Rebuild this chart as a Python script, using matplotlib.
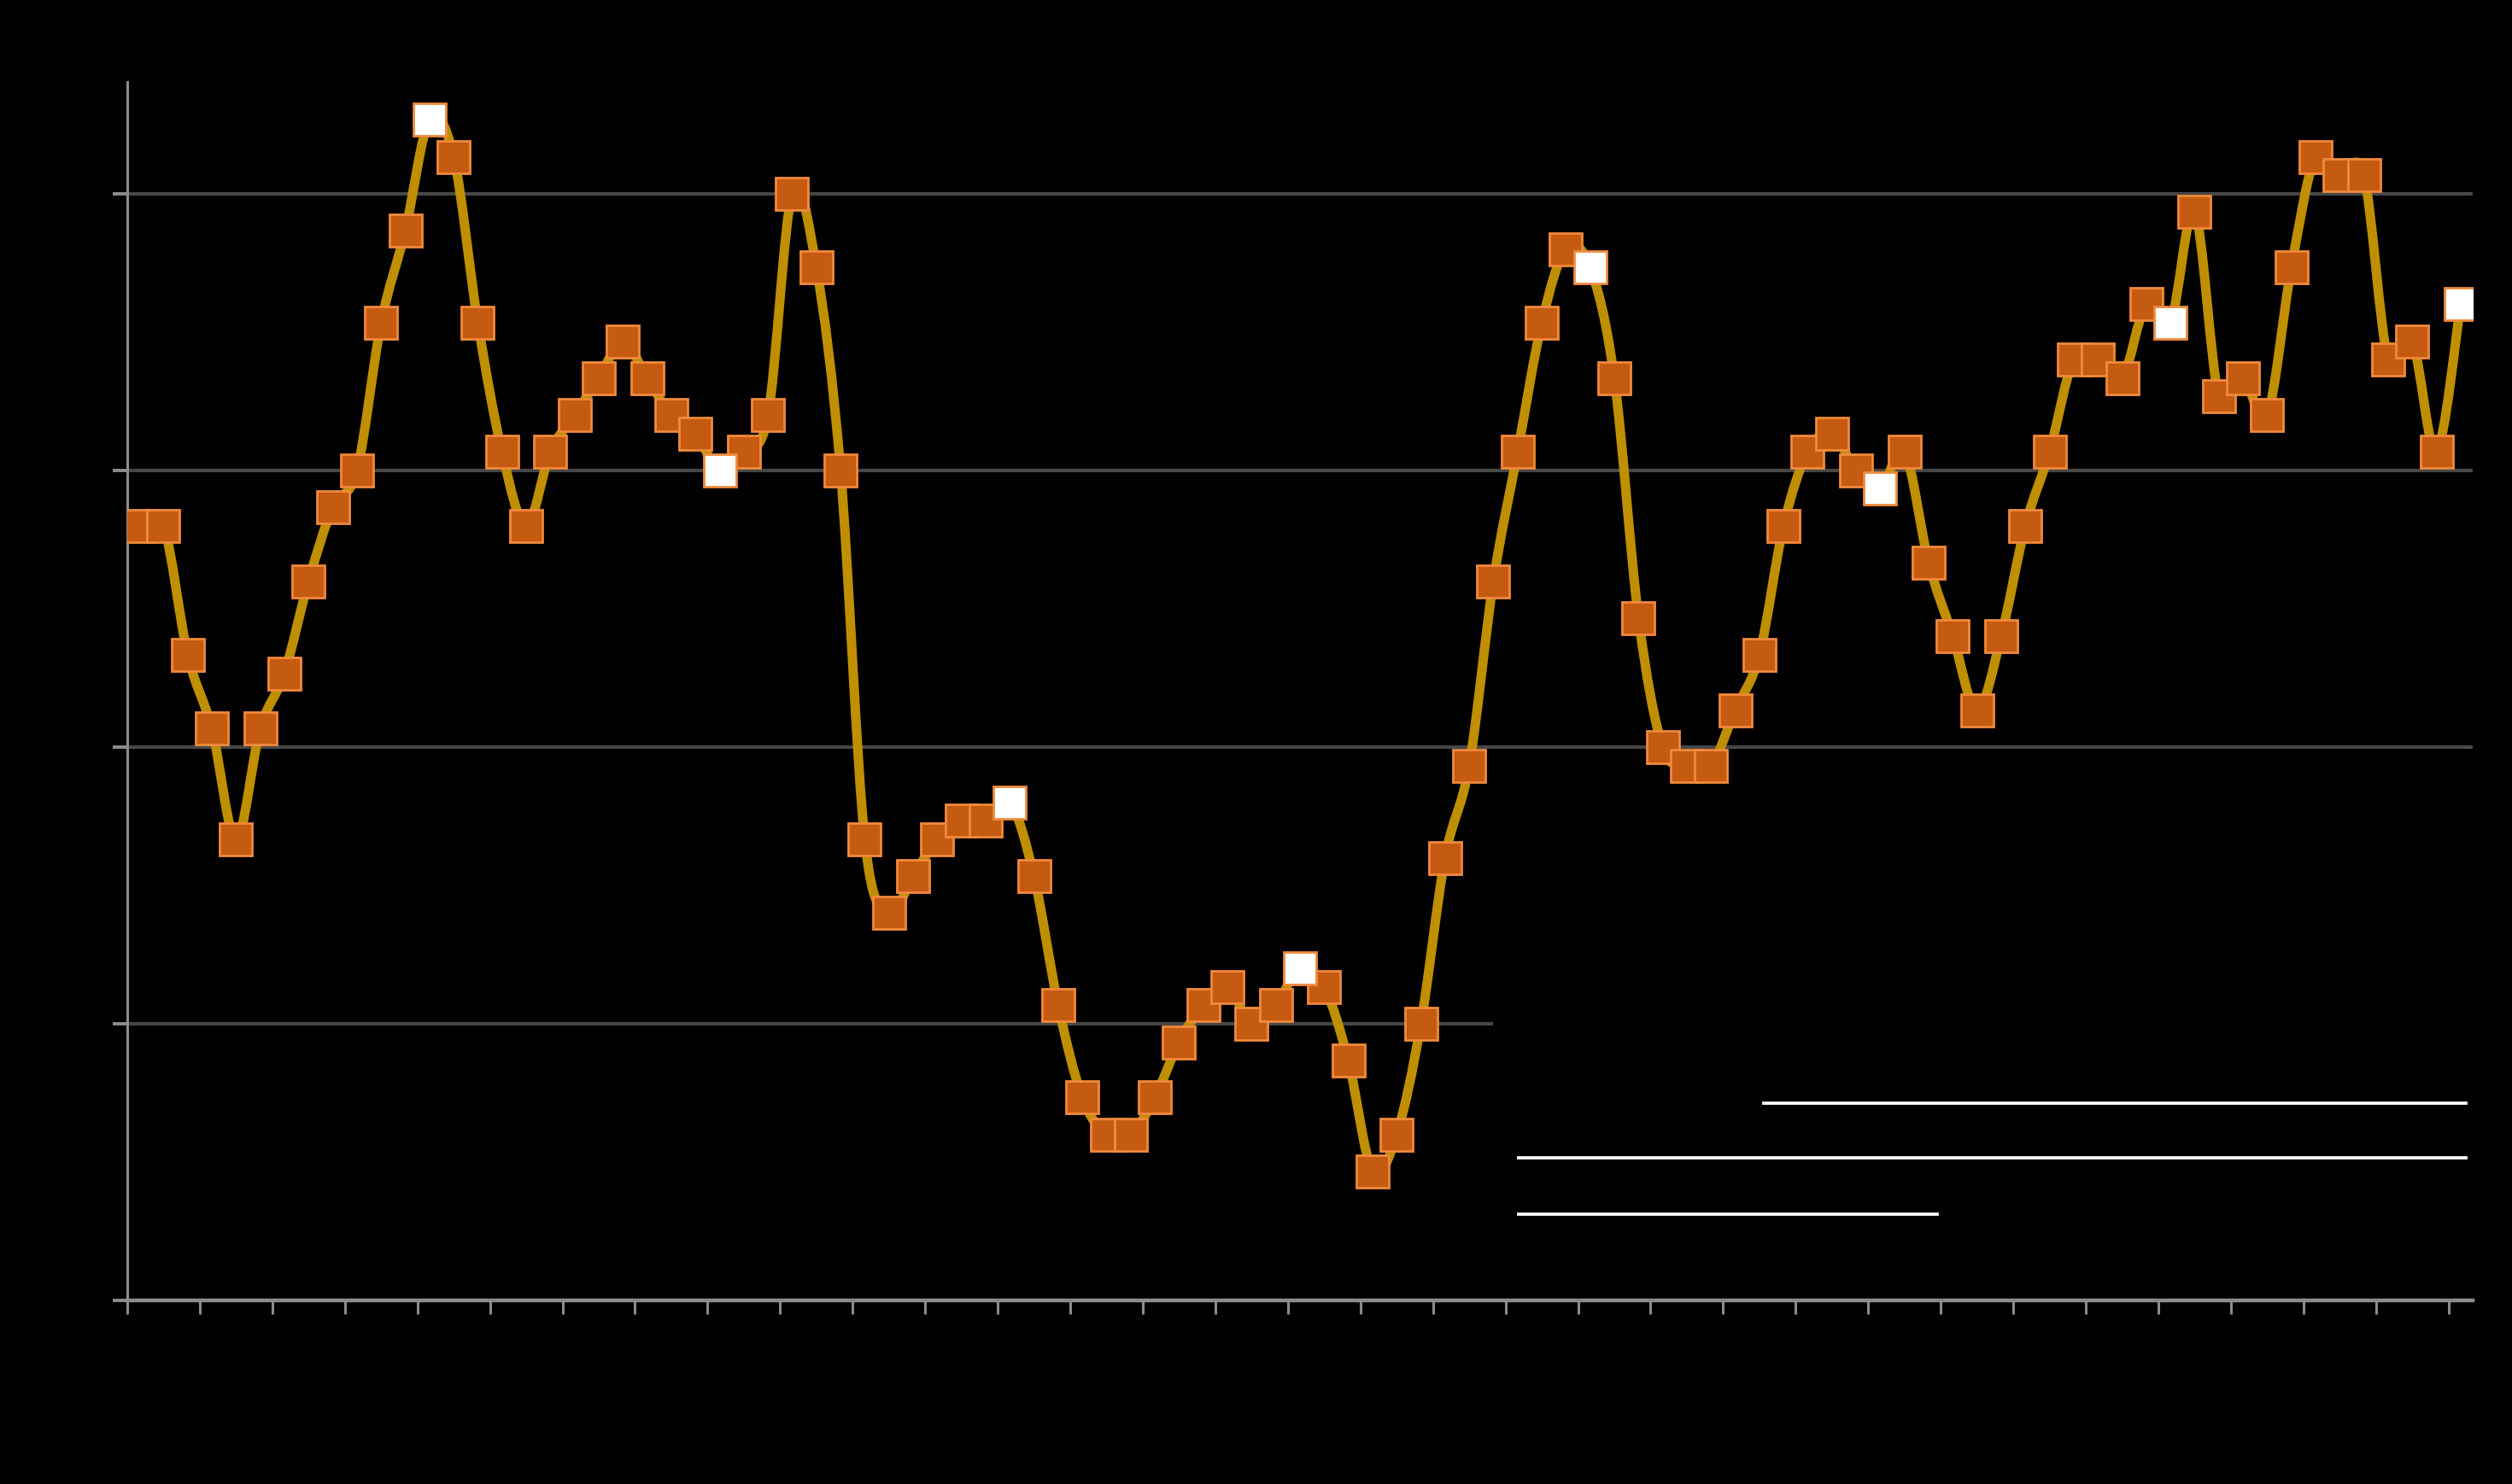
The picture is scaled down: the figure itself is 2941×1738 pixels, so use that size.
import matplotlib
matplotlib.use("Agg")
import matplotlib.pyplot as plt
from matplotlib.path import Path
from matplotlib.patches import PathPatch, Rectangle
from matplotlib.lines import Line2D
import numpy as np

# ---- data (monthly values) ----
values = [42, 42, 35, 31, 25, 31, 34, 39, 43, 45, 53, 58,
          64, 62, 53, 46, 42, 46, 48, 50, 52, 50, 48, 47,
          45, 46, 48, 60, 56, 45, 25, 21, 23, 25, 26, 26,
          27, 23, 16, 11, 9, 9, 11, 14, 16, 17, 15, 16,
          18, 17, 13, 7, 9, 15, 24, 29, 39, 46, 53, 57,
          56, 50, 37, 30, 29, 29, 32, 35, 42, 46, 47, 45,
          44, 46, 40, 36, 32, 36, 42, 46, 51, 51, 50, 54,
          53, 59, 49, 50, 48, 56, 62, 61, 61, 51, 52, 46,
          54]
highlight_idx = [12, 24, 36, 48, 60, 72, 84, 96]
y_ticks = [0, 15, 30, 45, 60]

BG = "#000000"
LINE_C = "#BF8F00"
MK_FACE = "#C55A11"
MK_EDGE = "#F08A3C"
GRID_C = "#474747"
AX_C = "#8C8C8C"

fig = plt.figure(figsize=(29.41, 17.38), dpi=100, facecolor=BG)
ax = fig.add_axes([0.05066, 0.1237, 0.98436 - 0.05066, 0.9448 - 0.1237])
ax.set_facecolor(BG)

n = len(values)
x = np.arange(n, dtype=float)
y = np.array(values, dtype=float)

# smoothed line (Catmull-Rom style Bezier, like a spreadsheet "smooth line")
verts = [(x[0], y[0])]
codes = [Path.MOVETO]
for i in range(n - 1):
    p0 = np.array([x[max(i - 1, 0)], y[max(i - 1, 0)]])
    p1 = np.array([x[i], y[i]])
    p2 = np.array([x[i + 1], y[i + 1]])
    p3 = np.array([x[min(i + 2, n - 1)], y[min(i + 2, n - 1)]])
    c1 = p1 + (p2 - p0) / 6.0
    c2 = p2 - (p3 - p1) / 6.0
    verts += [tuple(c1), tuple(c2), tuple(p2)]
    codes += [Path.CURVE4, Path.CURVE4, Path.CURVE4]
ax.add_patch(PathPatch(Path(verts, codes), facecolor="none", edgecolor=LINE_C,
                       lw=8.0, capstyle="round", joinstyle="round", zorder=3))

normal = [i for i in range(n) if i not in highlight_idx]
ax.plot(x[normal], y[normal], ls="none", marker="s", ms=27, mfc=MK_FACE,
        mec=MK_EDGE, mew=2.0, zorder=4)
ax.plot(x[highlight_idx], y[highlight_idx], ls="none", marker="s", ms=27,
        mfc="#FFFFFF", mec=MK_EDGE, mew=2.0, zorder=5)

ax.set_xlim(-0.5, n - 0.5)
ax.set_ylim(0, 66.06)
ax.set_xticks(np.arange(-0.5, n - 0.5, 3))
ax.set_yticks(y_ticks)
ax.set_xticklabels([])
ax.set_yticklabels([])

ax.grid(axis="y", color=GRID_C, lw=3.0, zorder=1)
ax.set_axisbelow(True)
for s in ["top", "right"]:
    ax.spines[s].set_visible(False)
ax.spines["left"].set_color(AX_C)
ax.spines["left"].set_linewidth(2.2)
ax.spines["bottom"].set_color(AX_C)
ax.spines["bottom"].set_linewidth(3.2)
ax.spines["bottom"].set_zorder(6)
ax.tick_params(axis="x", direction="out", length=11.5, width=2.2, color=AX_C)
ax.tick_params(axis="y", direction="out", length=12, width=2.8, color=AX_C)

# legend-like black box with white rules (text is black on black)
fig.patches.append(Rectangle((0.5944, 0.17), 0.41, 0.16, transform=fig.transFigure,
                             facecolor=BG, edgecolor="none", zorder=2))
for (x0, x1, yy) in [(0.7021, 0.9816, 0.2566), (0.6046, 0.9816, 0.2198),
                     (0.6046, 0.7712, 0.1818)]:
    fig.lines.append(Line2D([x0, x1], [yy, yy], transform=fig.transFigure,
                            color="#FFFFFF", lw=2.7, zorder=3))

fig.savefig("out.png", dpi=100, facecolor=BG)
